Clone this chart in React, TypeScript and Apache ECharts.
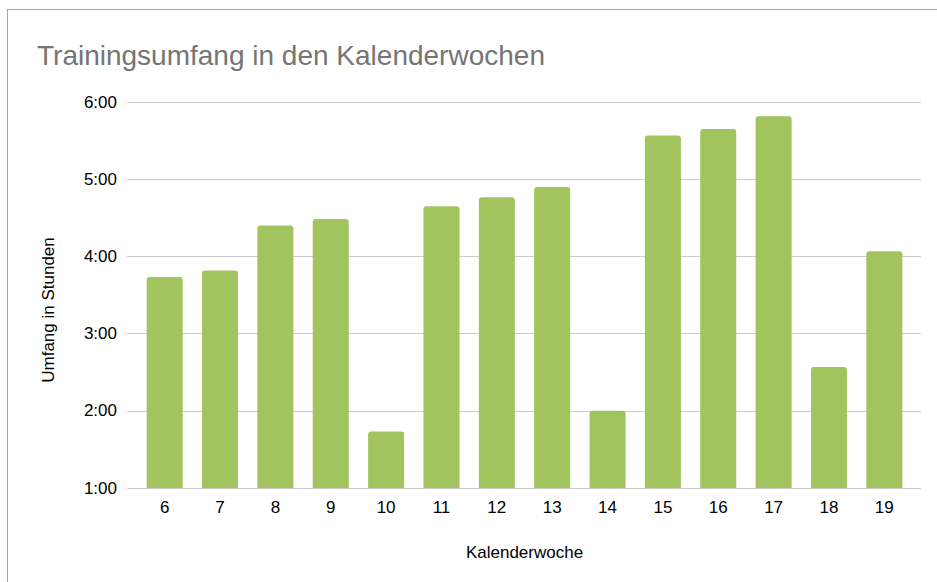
import React, { useEffect, useRef } from "react";
import * as echarts from "echarts";

const weeks = ["6", "7", "8", "9", "10", "11", "12", "13", "14", "15", "16", "17", "18", "19"];
// training volume in minutes per calendar week
const minutes = [224, 229, 264, 269, 104, 279, 286, 294, 120, 334, 339, 349, 154, 244];
const yMin = 60;
const yMax = 360;
const yStep = 60;

const titleText = "Trainingsumfang in den Kalenderwochen";
const yName = "Umfang in Stunden";
const xName = "Kalenderwoche";

const fmt = (v: number) => {
  const h = Math.floor(v / 60);
  const m = Math.round(v - h * 60);
  return `${h}:${m < 10 ? "0" + m : m}`;
};

const FONT = '"Liberation Sans", Arial, Helvetica, sans-serif';

export default function App() {
  const ref = useRef<HTMLDivElement>(null);
  useEffect(() => {
    if (!ref.current) return;
    const chart = echarts.init(ref.current, undefined, { renderer: "svg" });
    const gridTop = 92;
    const gridBottom = 94;
    chart.setOption({
      animation: false,
      backgroundColor: "#ffffff",
      textStyle: { fontFamily: FONT },
      title: {
        text: titleText,
        left: 29,
        top: 31,
        padding: 0,
        textStyle: { fontFamily: FONT, fontSize: 28, fontWeight: "normal", color: "#757575" },
      },
      grid: [
        { left: 129, right: 25, top: gridTop, bottom: gridBottom, containLabel: false },
        { left: 119, right: 16, top: gridTop, bottom: gridBottom, containLabel: false },
      ],
      xAxis: [
        {
          type: "category",
          gridIndex: 0,
          data: weeks,
          axisLine: { show: false },
          axisTick: { show: false },
          axisLabel: { color: "#000000", fontSize: 17, fontFamily: FONT, margin: 11 },
          name: xName,
          nameLocation: "middle",
          nameGap: 56,
          nameTextStyle: { color: "#000000", fontSize: 17, fontFamily: FONT },
        },
        {
          type: "value",
          gridIndex: 1,
          show: false,
          min: 0,
          max: 1,
        },
      ],
      yAxis: [
        {
          type: "value",
          gridIndex: 0,
          min: yMin,
          max: yMax,
          interval: yStep,
          show: false,
          splitLine: { show: false },
        },
        {
          type: "value",
          gridIndex: 1,
          min: yMin,
          max: yMax,
          interval: yStep,
          axisLine: { show: false },
          axisTick: { show: false },
          axisLabel: {
            color: "#000000",
            fontSize: 17,
            fontFamily: FONT,
            margin: 10,
            formatter: (v: number) => fmt(v),
          },
          splitLine: { show: true, lineStyle: { color: "#cccccc", width: 1 } },
        },
      ],
      graphic: [
        {
          type: "text",
          x: 40,
          y: 300,
          rotation: Math.PI / 2,
          style: {
            text: yName,
            fill: "#000000",
            fontSize: 17,
            fontFamily: FONT,
            align: "center",
            verticalAlign: "middle",
          },
        },
      ],
      series: [
        {
          type: "bar",
          xAxisIndex: 0,
          yAxisIndex: 0,
          data: minutes,
          barWidth: 36,
          itemStyle: { color: "#a1c45f", borderRadius: [3, 3, 0, 0] },
          z: 3,
        },
      ],
    });
    return () => chart.dispose();
  }, []);
  return (
    <div
      style={{
        position: "absolute",
        left: 7,
        top: 9,
        borderTop: "1px solid #a6a6a6",
        borderLeft: "1px solid #a6a6a6",
        width: 929,
        height: 572,
      }}
    >
      <div ref={ref} style={{ width: 929, height: 572 }} />
    </div>
  );
}
